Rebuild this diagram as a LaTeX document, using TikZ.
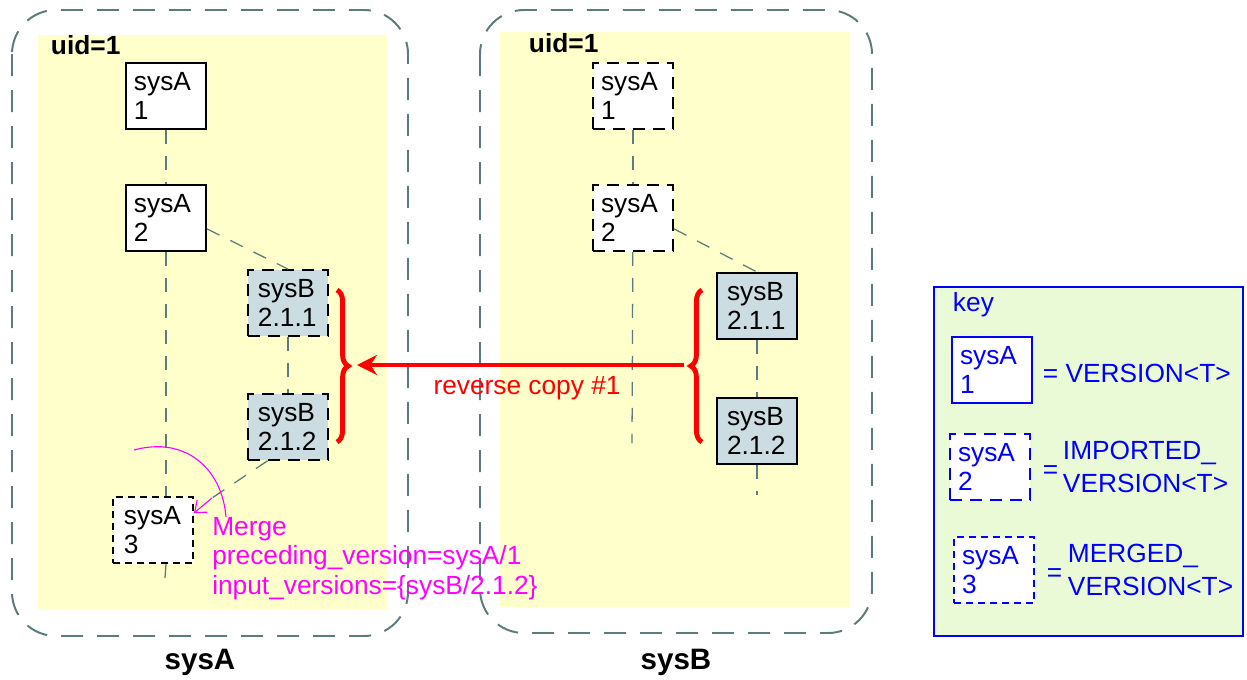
\documentclass[tikz,border=0pt]{standalone}
\usepackage{fontspec}
\setmainfont{Liberation Sans}
\usetikzlibrary{arrows.meta,positioning,calc,decorations.pathreplacing}
\definecolor{pale}{HTML}{FFFFCC}
\definecolor{frame}{HTML}{5C7C7C}
\definecolor{slate}{HTML}{CCDCE3}
\definecolor{keybg}{HTML}{EBFAD6}
\definecolor{pink}{HTML}{FF00FF}
\definecolor{redx}{HTML}{FF0000}
\definecolor{bluex}{HTML}{0000FF}

\begin{document}
\begin{tikzpicture}[x=0.025cm,y=-0.025cm,font=\fontsize{18.7}{21}\selectfont,
 system/.style={draw=frame,line width=1.4pt,dash pattern=on 0.55cm off 0.35cm,rounded corners=1.1cm},
 ver/.style={draw,line width=1.3pt,fill=white,align=left,text width=1.6cm,inner xsep=0.2cm,minimum width=2cm,minimum height=1.65cm},
 imp/.style={ver,dash pattern=on 0.3cm off 0.2cm},
 mrg/.style={ver,dash pattern=on 0.18cm off 0.12cm,text width=1.45cm},
 sysb/.style={fill=slate,text width=1.5cm},
 link/.style={draw=frame,line width=0.9pt,dash pattern=on 0.35cm off 0.3cm},
 brc/.style={draw=redx,line width=3.5pt,decorate,decoration={brace,amplitude=0.28cm}},
 copy/.style={draw=redx,line width=3.5pt,-{Stealth[length=5mm,width=5mm]}},
 note/.style={pink,line width=0.8pt},
 title/.style={font=\bfseries\fontsize{21}{24}\selectfont},
 keyver/.style={draw=bluex,text=bluex}]
\useasboundingbox (0,0) rectangle (1247,679);
% the two systems
\draw[system] (12,10) rectangle (408,636);
\draw[system] (480,10) rectangle (872,633);
\fill[pale] (38,35) rectangle (387,610);
\fill[pale] (500,32) rectangle (850,607);
\node[anchor=west,font=\bfseries\fontsize{18.7}{21}\selectfont] (uidA) at (46,45) {uid=1};
\node[anchor=west,font=\bfseries\fontsize{18.7}{21}\selectfont] (uidB) at (524,43) {uid=1};
\node[title] (nameA) at (200,662) {sysA};
\node[title] (nameB) at (676,662) {sysB};
% versions in sysA
\node[ver] (a1) at (166,96) {sysA\\1};
\node[ver,below=1.35cm of a1] (a2) {sysA\\2};
\node[imp,sysb] (b211) at (288,303) {sysB\\2.1.1};
\node[imp,sysb,below=1.4cm of b211] (b212) {sysB\\2.1.2};
\node[mrg] (a3) at (153,530) {sysA\\3};
\coordinate (aend) at (165,578);
\coordinate (mid) at (212,498);
\draw[link] (a1) -- (a2);
\draw[link] (a2.south) -- (a2.south |- a3.north);
\draw[link] (a2.south |- a3.south) -- (aend);
\draw[link] (a2.-15) -- (b211.north);
\draw[link] (b211) -- (b212);
\draw[link] ($(b212.south west)!0.25!(b212.south east)$) -- (mid);
\draw[note,-{Straight Barb[length=2.5mm,width=4mm]}] (mid) -- ($(a3.east)!0.5!(a3.north east)$);
\draw[note] (226,517) .. controls (222,468) and (185,436) .. (134,450);
\node[anchor=north west,align=left,text=pink,inner sep=0pt] (merge) at (212,517) {Merge\\preceding\_version=sysA/1\\input\_versions=\{sysB/2.1.2\}};
% versions in sysB
\node[imp] (ra1) at (633,96) {sysA\\1};
\node[imp,below=1.35cm of ra1] (ra2) {sysA\\2};
\node[ver,sysb] (rb211) at (757,306) {sysB\\2.1.1};
\node[ver,sysb,below=1.425cm of rb211] (rb212) {sysB\\2.1.2};
\coordinate (rend1) at (632,443);
\coordinate (rend2) at (757,495);
\draw[link] (ra1) -- (ra2);
\draw[link] (ra2) -- (rend1);
\draw[link] (ra2.-15) -- (rb211.north);
\draw[link] (rb211) -- (rb212);
\draw[link] (rb212) -- (rend2);
% reverse copy
\draw[brc] (337,290) -- (337,442);
\draw[brc] (702,442) -- (702,290);
\coordinate (lbr) at (357,365);
\coordinate (rbr) at (684,365);
\draw[copy] (rbr) -- node[below=1mm,pos=0.48,text=redx] (rev) {reverse copy \#1} (lbr);
% key
\draw[draw=bluex,fill=keybg,line width=1.3pt] (934,287) rectangle (1243,636);
\node[anchor=west,text=bluex] (key) at (948,305) {key};
\node[ver,keyver] (k1) at (992,370) {sysA\\1};
\node[imp,keyver] (k2) at (990,467) {sysA\\2};
\node[mrg,keyver,text width=1.6cm] (k3) at (994,570) {sysA\\3};
\node[anchor=west,text=bluex] (t1) at (1038,373) {= VERSION<T>};
\node[anchor=west,text=bluex] (e2) at (1038,472) {=};
\node[anchor=west,text=bluex,align=left,font=\fontsize{18.7}{23.5}\selectfont] (t2) at (1058,467) {IMPORTED\_\\VERSION<T>};
\node[anchor=west,text=bluex] (e3) at (1042,575) {=};
\node[anchor=west,text=bluex,align=left,font=\fontsize{18.7}{23.5}\selectfont] (t3) at (1063,570) {MERGED\_\\VERSION<T>};
\end{tikzpicture}
\end{document}
